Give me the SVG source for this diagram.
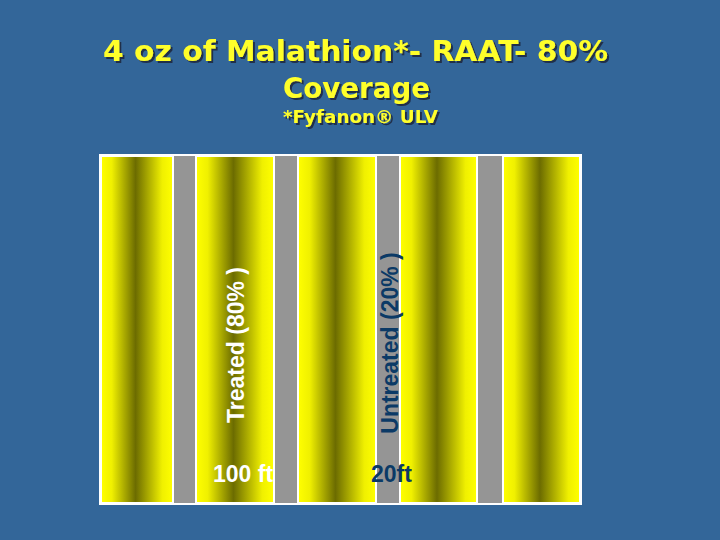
<svg xmlns="http://www.w3.org/2000/svg" width="720" height="540" viewBox="0 0 720 540">
<defs>
<linearGradient id="band" x1="0" y1="0" x2="1" y2="0">
<stop offset="0" stop-color="#ffff00"/>
<stop offset="0.15" stop-color="#f0f000"/>
<stop offset="0.48" stop-color="#6c6c00"/>
<stop offset="0.85" stop-color="#f0f000"/>
<stop offset="1" stop-color="#ffff00"/>
</linearGradient>
<filter id="sh" x="-5%" y="-20%" width="110%" height="140%">
<feDropShadow dx="2" dy="2" stdDeviation="0.6" flood-color="#1a2a40" flood-opacity="0.9"/>
</filter>
</defs>
<style>
.title{font-family:"DejaVu Sans",Verdana,sans-serif;font-weight:bold;fill:#ffff2a;text-anchor:start;filter:url(#sh)}
.yel{fill:url(#band);stroke:#ffffff;stroke-width:2}
.lbl{font-family:"Liberation Sans",Arial,sans-serif;font-size:23px;font-weight:bold}
</style>
<rect width="720" height="540" fill="#336699"/>
<g id="title">
<text class="title" x="103" y="61" font-size="29" textLength="505" lengthAdjust="spacingAndGlyphs">4 oz of Malathion*- RAAT- 80%</text>
<text class="title" x="283" y="98" font-size="29" textLength="147" lengthAdjust="spacingAndGlyphs">Coverage</text>
<text class="title" x="283" y="123" font-size="18" textLength="155" lengthAdjust="spacingAndGlyphs">*Fyfanon® ULV</text>
</g>
<g id="field">
<rect x="100" y="155" width="481" height="349" fill="#959595" stroke="#ffffff" stroke-width="2"/>
<rect class="yel" x="101" y="156" width="72" height="347"/>
<rect class="yel" x="196" y="156" width="78" height="347"/>
<rect class="yel" x="298" y="156" width="78" height="347"/>
<rect class="yel" x="400" y="156" width="77" height="347"/>
<rect class="yel" x="503" y="156" width="77" height="347"/>
</g>
<g id="labels">
<text class="lbl" fill="#ffffff" transform="translate(244,345) rotate(-90)" text-anchor="middle">Treated (80% )</text>
<text class="lbl" fill="#0b3a66" transform="translate(398,343) rotate(-90)" text-anchor="middle">Untreated (20% )</text>
<text class="lbl" fill="#ffffff" x="213" y="482">100 ft</text>
<text class="lbl" fill="#0b3a66" x="371" y="482">20ft</text>
</g>
</svg>
